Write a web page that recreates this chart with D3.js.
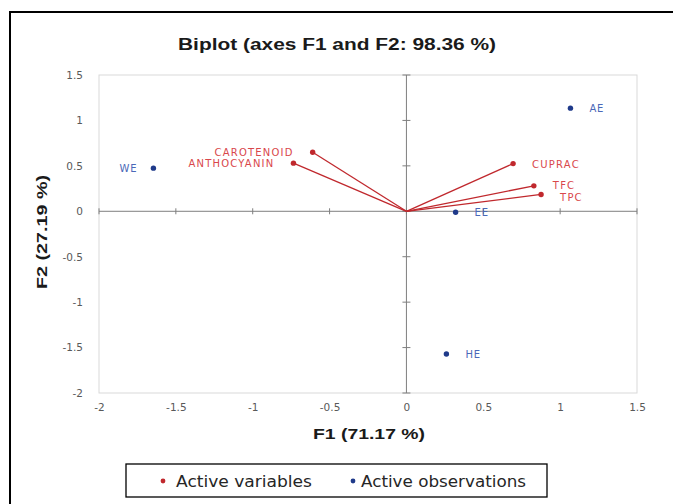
<!DOCTYPE html>
<html>
<head>
<meta charset="utf-8">
<script src="https://cdn.jsdelivr.net/npm/d3@7"></script>
<style>
body { margin: 0; background: #fff; }
svg { display: block; }
.tick text { font-family: "DejaVu Sans", sans-serif; font-size: 10.5px; fill: #595959; }
</style>
</head>
<body>
<div id="chart"></div>
<script>
// variables (red vectors)
var varNames = ["CAROTENOID", "ANTHOCYANIN", "CUPRAC", "TFC", "TPC"];
var varF1 = [-0.61, -0.735, 0.694, 0.829, 0.876];
var varF2 = [0.65, 0.53, 0.525, 0.28, 0.185];
var varLabelDy = [4, 4, 4, 3, 7];

// observations (blue points)
var obsNames = ["WE", "AE", "EE", "HE"];
var obsF1 = [-1.646, 1.067, 0.32, 0.26];
var obsF2 = [0.475, 1.135, -0.01, -1.57];

var xTicks = [-2, -1.5, -1, -0.5, 0, 0.5, 1, 1.5];
var yTicks = [-2, -1.5, -1, -0.5, 0, 0.5, 1, 1.5];

var width = 673, height = 504;
var red = "#c0282d", redText = "#d9474b";
var blue = "#1f3a8a", blueText = "#4a68b8";

var svg = d3.select("#chart").append("svg")
    .attr("width", width)
    .attr("height", height);

// outer frame (only top and left are visible in the crop)
svg.append("path")
    .attr("d", "M10,504 L10,12 L673,12")
    .attr("fill", "none")
    .attr("stroke", "#000")
    .attr("stroke-width", 2);

var x = d3.scaleLinear().domain([-2, 1.5]).range([99, 637]);
var y = d3.scaleLinear().domain([-2, 1.5]).range([393, 75]);

// plot area border
svg.append("rect")
    .attr("x", x(-2)).attr("y", y(1.5))
    .attr("width", x(1.5) - x(-2))
    .attr("height", y(-2) - y(1.5))
    .attr("fill", "none")
    .attr("stroke", "#d9d9d9");

// tick labels along the edges
var xAxis = d3.axisBottom(x).tickValues(xTicks).tickSize(0).tickPadding(11)
    .tickFormat(function (d) { return String(d); });
var gx = svg.append("g")
    .attr("transform", "translate(0," + y(-2) + ")")
    .call(xAxis);
gx.select(".domain").remove();

var yAxis = d3.axisLeft(y).tickValues(yTicks).tickSize(0).tickPadding(16)
    .tickFormat(function (d) { return String(d); });
var gy = svg.append("g")
    .attr("transform", "translate(" + x(-2) + ",0)")
    .call(yAxis);
gy.select(".domain").remove();

// axes through zero with crossing tick marks
svg.append("line")
    .attr("x1", x(-2)).attr("x2", x(1.5))
    .attr("y1", y(0)).attr("y2", y(0))
    .attr("stroke", "#7f7f7f");
svg.append("line")
    .attr("x1", x(0)).attr("x2", x(0))
    .attr("y1", y(1.5)).attr("y2", y(-2))
    .attr("stroke", "#7f7f7f");

svg.selectAll("line.xt")
    .data(xTicks)
    .enter()
    .append("line")
    .attr("class", "xt")
    .attr("x1", function (d) { return x(d); })
    .attr("x2", function (d) { return x(d); })
    .attr("y1", y(0) - 3).attr("y2", y(0) + 3)
    .attr("stroke", "#7f7f7f");

svg.selectAll("line.yt")
    .data(yTicks)
    .enter()
    .append("line")
    .attr("class", "yt")
    .attr("x1", x(0) - 4).attr("x2", x(0) + 4)
    .attr("y1", function (d) { return y(d); })
    .attr("y2", function (d) { return y(d); })
    .attr("stroke", "#7f7f7f");

// variable vectors
var vars = varNames.map(function (n, i) {
    return { name: n, f1: varF1[i], f2: varF2[i], dy: varLabelDy[i] };
});

svg.selectAll("line.vec")
    .data(vars)
    .enter()
    .append("line")
    .attr("class", "vec")
    .attr("x1", x(0)).attr("y1", y(0))
    .attr("x2", function (d) { return x(d.f1); })
    .attr("y2", function (d) { return y(d.f2); })
    .attr("stroke", red)
    .attr("stroke-width", 1.3);

svg.selectAll("circle.var")
    .data(vars)
    .enter()
    .append("circle")
    .attr("class", "var")
    .attr("cx", function (d) { return x(d.f1); })
    .attr("cy", function (d) { return y(d.f2); })
    .attr("r", 2.7)
    .attr("fill", red);

svg.selectAll("text.var")
    .data(vars)
    .enter()
    .append("text")
    .attr("class", "var")
    .attr("x", function (d) { return d.f1 < 0 ? x(d.f1) - 19 : x(d.f1) + 19; })
    .attr("y", function (d) { return y(d.f2) + d.dy; })
    .attr("text-anchor", function (d) { return d.f1 < 0 ? "end" : "start"; })
    .attr("font-family", "DejaVu Sans, sans-serif")
    .attr("font-size", 10)
    .attr("letter-spacing", 1.2)
    .attr("fill", redText)
    .text(function (d) { return d.name; });

// observations
var obs = obsNames.map(function (n, i) { return { name: n, f1: obsF1[i], f2: obsF2[i] }; });

svg.selectAll("circle.obs")
    .data(obs)
    .enter()
    .append("circle")
    .attr("class", "obs")
    .attr("cx", function (d) { return x(d.f1); })
    .attr("cy", function (d) { return y(d.f2); })
    .attr("r", 2.7)
    .attr("fill", blue);

svg.selectAll("text.obs")
    .data(obs)
    .enter()
    .append("text")
    .attr("class", "obs")
    .attr("x", function (d) { return d.f1 < 0 ? x(d.f1) - 16 : x(d.f1) + 19; })
    .attr("y", function (d) { return y(d.f2) + 4; })
    .attr("text-anchor", function (d) { return d.f1 < 0 ? "end" : "start"; })
    .attr("font-family", "DejaVu Sans, sans-serif")
    .attr("font-size", 10)
    .attr("letter-spacing", 0.8)
    .attr("fill", blueText)
    .text(function (d) { return d.name; });

// titles
svg.append("text")
    .attr("x", 337).attr("y", 50)
    .attr("text-anchor", "middle")
    .attr("font-family", "Liberation Sans, Arial, sans-serif")
    .attr("font-weight", "bold")
    .attr("font-size", 16)
    .attr("textLength", 318)
    .attr("lengthAdjust", "spacingAndGlyphs")
    .attr("fill", "#1a1a1a")
    .text("Biplot (axes F1 and F2: 98.36 %)");

svg.append("text")
    .attr("x", 369).attr("y", 439)
    .attr("text-anchor", "middle")
    .attr("font-family", "Liberation Sans, Arial, sans-serif")
    .attr("font-weight", "bold")
    .attr("font-size", 15)
    .attr("textLength", 112)
    .attr("lengthAdjust", "spacingAndGlyphs")
    .attr("fill", "#1a1a1a")
    .text("F1 (71.17 %)");

svg.append("text")
    .attr("transform", "translate(47,232) rotate(-90)")
    .attr("text-anchor", "middle")
    .attr("font-family", "Liberation Sans, Arial, sans-serif")
    .attr("font-weight", "bold")
    .attr("font-size", 15)
    .attr("textLength", 114)
    .attr("lengthAdjust", "spacingAndGlyphs")
    .attr("fill", "#1a1a1a")
    .text("F2 (27.19 %)");

// legend
var legend = svg.append("g");
legend.append("rect")
    .attr("x", 126).attr("y", 464)
    .attr("width", 421).attr("height", 33)
    .attr("fill", "#fff")
    .attr("stroke", "#000")
    .attr("stroke-width", 1.3);

var legendItems = [
    { label: "Active variables", color: red, x: 163, tx: 13, w: 136 },
    { label: "Active observations", color: blue, x: 353, tx: 8, w: 165 }
];
var li = legend.selectAll("g.item")
    .data(legendItems)
    .enter()
    .append("g")
    .attr("class", "item")
    .attr("transform", function (d) { return "translate(" + d.x + ",481)"; });
li.append("circle")
    .attr("r", 2.4)
    .attr("fill", function (d) { return d.color; });
li.append("text")
    .attr("x", function (d) { return d.tx; })
    .attr("y", 6)
    .attr("font-family", "DejaVu Sans, sans-serif")
    .attr("font-size", 16)
    .attr("textLength", function (d) { return d.w; })
    .attr("lengthAdjust", "spacingAndGlyphs")
    .attr("fill", "#262626")
    .text(function (d) { return d.label; });
</script>
</body>
</html>
